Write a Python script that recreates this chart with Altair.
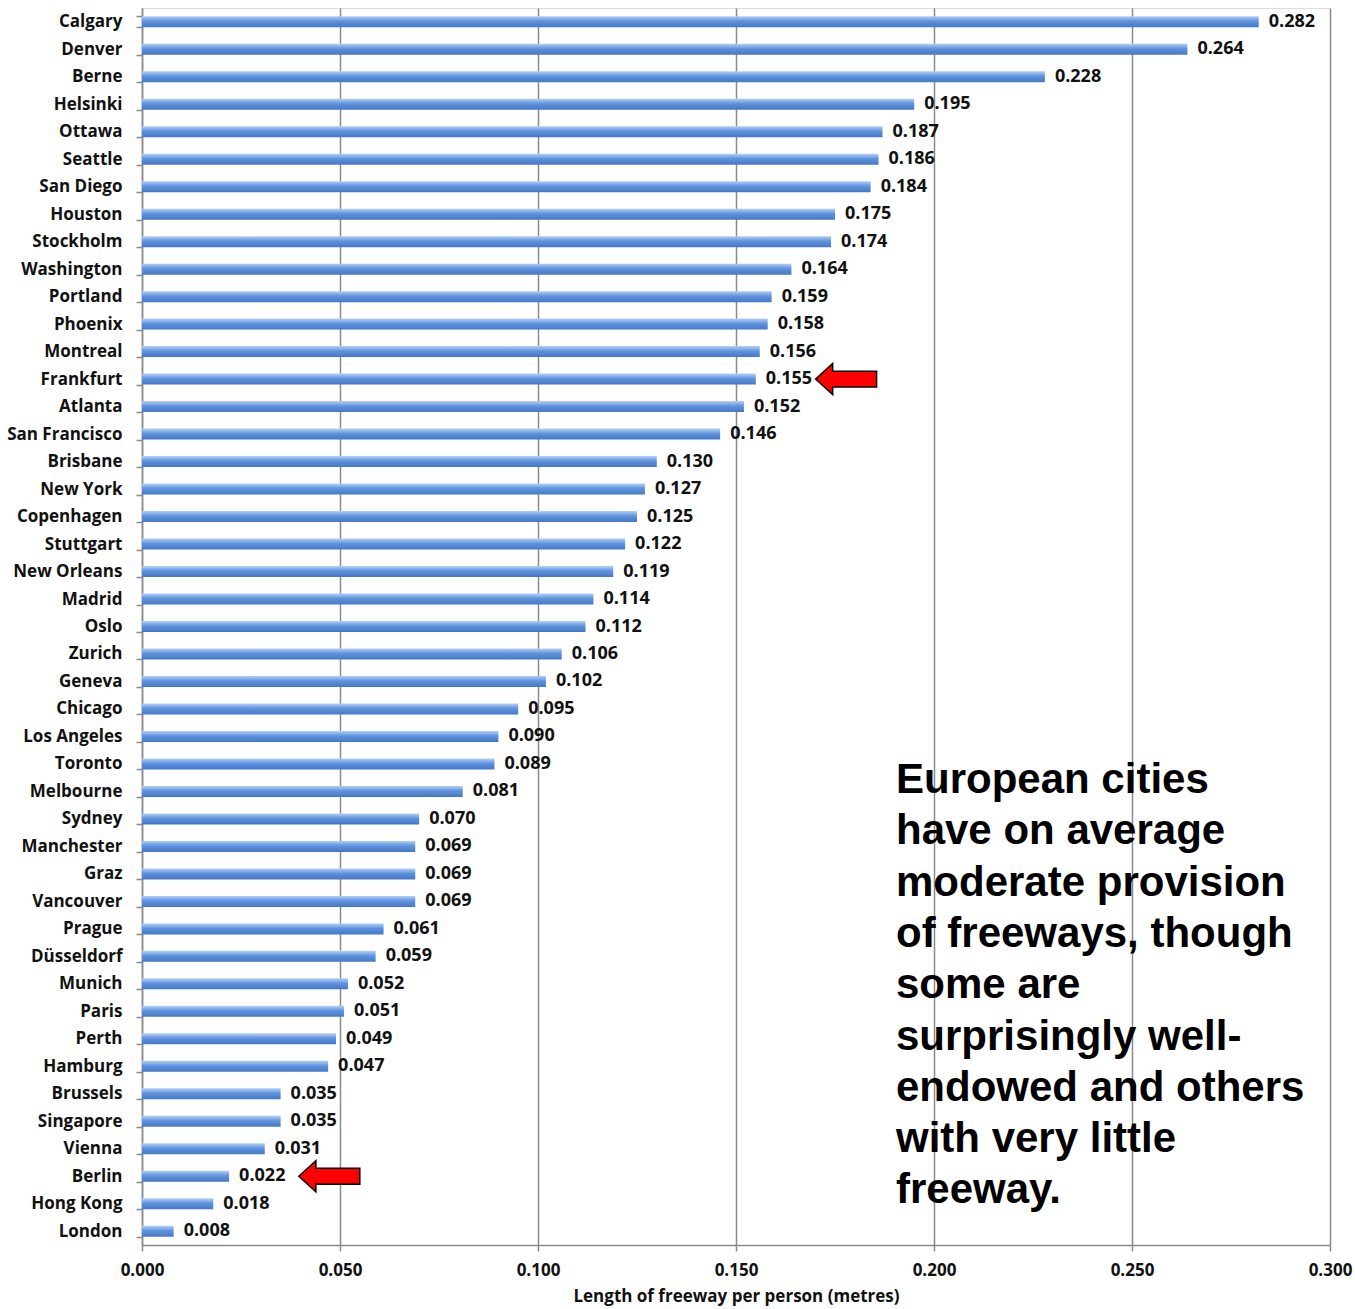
import altair as alt
import pandas as pd

cities = ["Calgary", "Denver", "Berne", "Helsinki", "Ottawa", "Seattle", "San Diego",
          "Houston", "Stockholm", "Washington", "Portland", "Phoenix", "Montreal",
          "Frankfurt", "Atlanta", "San Francisco", "Brisbane", "New York", "Copenhagen",
          "Stuttgart", "New Orleans", "Madrid", "Oslo", "Zurich", "Geneva", "Chicago",
          "Los Angeles", "Toronto", "Melbourne", "Sydney", "Manchester", "Graz",
          "Vancouver", "Prague", "Düsseldorf", "Munich", "Paris", "Perth", "Hamburg",
          "Brussels", "Singapore", "Vienna", "Berlin", "Hong Kong", "London"]
values = [0.282, 0.264, 0.228, 0.195, 0.187, 0.186, 0.184, 0.175, 0.174, 0.164,
          0.159, 0.158, 0.156, 0.155, 0.152, 0.146, 0.130, 0.127, 0.125, 0.122,
          0.119, 0.114, 0.112, 0.106, 0.102, 0.095, 0.090, 0.089, 0.081, 0.070,
          0.069, 0.069, 0.069, 0.061, 0.059, 0.052, 0.051, 0.049, 0.047, 0.035,
          0.035, 0.031, 0.022, 0.018, 0.008]

arrow_cities = ["Frankfurt", "Berlin"]
arrow_x = [0.1778, 0.0473]

note_lines = ["European cities", "have on average", "moderate provision",
              "of freeways, though", "some are", "surprisingly well-",
              "endowed and others", "with very little", "freeway."]

df = pd.DataFrame({"city": cities, "value": values})
arrows = pd.DataFrame({"city": arrow_cities, "x": arrow_x})

FONT = "Open Sans"

x_scale = alt.Scale(domain=[0, 0.3], nice=False)
y_scale = alt.Scale(domain=cities, paddingInner=0.6, paddingOuter=0.3)

gradient = alt.Gradient(
    gradient="linear",
    stops=[alt.GradientStop(color="#b3d0f7", offset=0),
           alt.GradientStop(color="#5f93de", offset=0.45),
           alt.GradientStop(color="#4677c6", offset=1)],
    x1=0, x2=0, y1=0, y2=1,
)

bars = alt.Chart(df).mark_bar(color=gradient).encode(
    x=alt.X("value:Q", scale=x_scale,
            axis=alt.Axis(title="Length of freeway per person (metres)",
                          format=".3f", values=[0, 0.05, 0.1, 0.15, 0.2, 0.25, 0.3],
                          grid=True, gridColor="#8a8a8a", gridWidth=1.5,
                          domainColor="#8a8a8a", domainWidth=1.5,
                          tickColor="#8a8a8a", tickWidth=1.5, tickSize=6,
                          labelFlush=False,
                          labelPadding=11, labelFont=FONT, labelFontSize=17,
                          labelFontWeight="bold", labelColor="#111",
                          titleFont=FONT, titleFontSize=17, titleFontWeight="bold",
                          titleColor="#111", titlePadding=10)),
    y=alt.Y("city:N", scale=y_scale, sort=None,
            axis=alt.Axis(title=None, grid=False, tickBand="extent",
                          domainColor="#8a8a8a", domainWidth=1.5,
                          tickColor="#8a8a8a", tickWidth=1.5, tickSize=6,
                          labelPadding=14, labelFont=FONT, labelFontSize=17,
                          labelFontWeight="bold", labelColor="#111")),
)

labels = alt.Chart(df).mark_text(align="left", baseline="middle", dx=10,
                                 font=FONT, fontSize=18, fontWeight="bold",
                                 color="#111").encode(
    x=alt.X("value:Q", scale=x_scale),
    y=alt.Y("city:N", scale=y_scale, sort=None),
    text=alt.Text("value:Q", format=".3f"),
)

arrow_path = "M -1 0 L -0.44 -0.51 L -0.44 -0.26 L 1 -0.26 L 1 0.26 L -0.44 0.26 L -0.44 0.51 Z"
arrow_marks = alt.Chart(arrows).mark_point(shape=arrow_path, filled=True, fill="#ff0000",
                                           stroke="#000000", strokeWidth=1.5,
                                           size=3721, opacity=1).encode(
    x=alt.X("x:Q", scale=x_scale),
    y=alt.Y("city:N", scale=y_scale, sort=None),
)

note = alt.Chart(pd.DataFrame({"t": [note_lines]})).mark_text(
    align="left", baseline="alphabetic", font="Liberation Sans", fontSize=42,
    fontWeight="bold", color="#000", lineHeight=51.3).encode(
    x=alt.value(754), y=alt.value(785), text="t")

chart = alt.layer(bars, labels, arrow_marks, note).properties(
    width=1188, height=1237,
    autosize=alt.AutoSizeParams(type="none"),
    padding={"left": 142, "top": 8, "right": 25, "bottom": 64},
).configure_view(stroke=None).configure(background="white")

chart.save("out.html", embed_options={"renderer": "svg", "actions": False})
